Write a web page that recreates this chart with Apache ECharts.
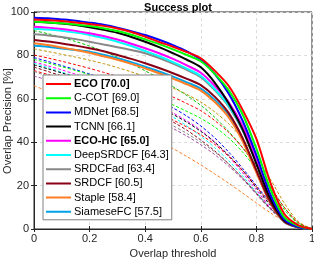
<!DOCTYPE html>
<html><head><meta charset="utf-8">
<script src="https://cdn.jsdelivr.net/npm/echarts@6/dist/echarts.min.js"></script>
<style>html,body{margin:0;padding:0;background:#fff}#c{width:314px;height:260px}</style>
</head><body><div id="c"></div>
<script>
// thresholds 0:0.05:1
const thresholds = [0,0.05,0.1,0.15,0.2,0.25,0.3,0.35,0.4,0.45,0.5,0.55,0.6,0.65,0.7,0.75,0.8,0.85,0.9,0.95,1];
const xTicks = [0,0.2,0.4,0.6,0.8,1];
const yTicks = [0,20,40,60,80,100];

// top-10 trackers (solid)
const trackerNames = ['ECO [70.0]','C-COT [69.0]','MDNet [68.5]','TCNN [66.1]','ECO-HC [65.0]','DeepSRDCF [64.3]','SRDCFad [63.4]','SRDCF [60.5]','Staple [58.4]','SiameseFC [57.5]'];
const ECO       = [96.6,96.3,95.8,95.2,94.5,93.6,92.4,90.8,88.6,86.2,84.0,81.5,78.7,73.0,66.0,55.0,41.5,21.5,7.0,1.8,0];
const CCOT      = [95.5,95.2,94.8,94.2,93.5,92.5,91.2,89.5,87.4,85.2,82.8,80.2,77.3,71.5,64.0,53.0,37.0,18.5,5.5,1.5,0];
const MDNet     = [97.4,97.1,96.6,96.0,95.1,94.1,92.8,91.2,89.4,87.2,84.7,81.8,78.0,71.5,62.5,50.0,34.0,16.0,4.5,1.0,0];
const TCNN      = [95.5,95.2,94.7,94.0,93.0,91.8,90.4,88.5,86.3,83.8,81.0,78.0,74.5,67.5,58.0,46.0,30.0,14.0,4.0,1.0,0];
const ECOHC     = [93.2,92.8,92.2,91.3,90.2,88.9,87.3,85.4,83.3,81.0,78.4,75.4,72.0,66.0,58.5,47.5,32.5,15.5,4.5,1.0,0];
const DeepSRDCF = [92.3,91.9,91.3,90.5,89.4,88.0,86.3,84.3,82.0,79.6,76.9,73.9,70.5,64.5,57.0,46.0,31.0,15.0,4.5,1.0,0];
const SRDCFad   = [89.7,89.2,88.5,87.5,86.3,85.0,83.8,82.5,81.0,78.8,76.2,73.3,70.0,64.0,56.5,45.5,30.5,14.5,4.2,1.0,0];
const SRDCF     = [87.1,86.4,85.5,84.5,83.3,81.9,80.2,78.4,76.4,74.2,71.8,69.2,66.3,61.0,53.5,42.0,27.0,12.5,3.5,0.8,0];
const Staple    = [85.6,84.8,83.6,82.5,81.2,79.6,78.0,76.1,74.0,71.8,69.3,66.7,63.8,58.5,51.5,40.5,26.0,12.0,3.3,0.8,0];
const SiameseFC = [84.5,84.0,83.2,82.5,81.7,80.3,78.7,76.9,74.8,72.6,70.2,67.6,64.7,59.5,52.5,41.5,26.5,12.0,3.2,0.7,0];
const solidValues = [ECO,CCOT,MDNet,TCNN,ECOHC,DeepSRDCF,SRDCFad,SRDCF,Staple,SiameseFC];
const solidColors = ['#ff0000','#00ff00','#0000ff','#000000','#ff00ff','#00ffff','#888888','#880015','#ff7f27','#00a2e8'];
const boldNames = ['ECO [70.0]','ECO-HC [65.0]'];

// remaining trackers (dashed)
const dGreen1  = [91.4,90.0,88.3,86.4,84.3,81.9,79.2,76.2,72.9,69.4,65.6,61.5,57.0,51.5,45.0,37.5,29.0,19.5,10.0,3.0,0];
const dOlive   = [83.0,81.8,80.5,79.2,77.8,76.2,74.4,72.4,70.2,67.8,65.0,62.0,58.5,54.0,48.5,41.5,33.0,23.0,12.0,3.5,0];
const dRed1    = [80.2,78.8,77.3,75.7,74.0,72.2,70.3,68.2,66.0,63.5,60.8,57.8,54.5,50.0,44.5,37.5,29.0,19.5,10.0,3.0,0];
const dBlue    = [79.0,77.2,75.3,73.4,71.4,69.2,67.0,64.6,62.0,59.0,55.8,52.0,47.5,42.0,35.5,28.0,20.0,12.0,5.0,1.2,0];
const dGreen2  = [78.2,76.5,74.8,73.0,71.1,69.2,67.2,65.0,62.6,60.0,57.2,54.2,51.0,47.0,42.0,35.5,27.5,18.5,9.0,2.5,0];
const dMagenta = [77.0,75.2,73.3,71.3,69.2,67.0,64.7,62.3,59.7,56.8,53.5,49.8,45.5,40.0,33.5,26.0,18.0,10.0,4.0,1.0,0];
const dCyan    = [76.4,74.4,72.3,70.2,68.0,65.7,63.3,60.7,58.0,55.0,51.6,47.5,42.8,37.5,31.5,24.5,17.0,9.5,3.8,1.0,0];
const dBlack   = [75.6,73.8,71.9,70.0,68.0,65.9,63.7,61.3,58.8,56.0,52.8,49.2,45.0,40.0,34.0,27.0,19.0,11.0,4.5,1.2,0];
const dDarkRed = [74.6,72.6,70.5,68.3,66.0,63.6,61.1,58.5,55.7,52.7,49.3,45.5,41.0,36.0,30.0,23.5,16.5,9.5,4.0,1.0,0];
const dRed2    = [73.0,71.2,69.3,67.3,65.2,63.0,60.7,58.3,55.8,53.1,50.2,47.0,43.4,39.0,33.5,27.0,19.5,12.0,5.5,1.5,0];
const dGray    = [72.5,70.5,68.4,66.2,63.9,61.5,59.0,56.4,53.7,50.8,47.6,44.0,40.0,35.5,30.0,23.5,16.5,9.5,4.0,1.0,0];
const dPurple  = [70.5,68.6,66.6,64.5,62.3,60.0,57.6,55.1,52.4,49.5,46.3,42.8,38.8,34.3,29.0,23.0,16.0,9.0,3.8,1.0,0];
const dOrange  = [66.0,63.5,61.0,58.4,55.7,52.9,50.0,47.0,43.9,40.6,37.1,33.4,29.5,25.4,21.1,16.6,12.0,7.5,3.6,1.0,0];
const dashedValues = [dGreen1,dOlive,dRed1,dBlue,dGreen2,dMagenta,dCyan,dBlack,dDarkRed,dRed2,dGray,dPurple,dOrange];
const dashedColors = ['#00c000','#bf9000','#ff0000','#0000ff','#00ff00','#ff00ff','#00ffff','#000000','#880015','#ff0000','#888888','#a349a4','#ff7f27'];

const axisColor = '#262626';
const font = 'Liberation Sans, Arial, sans-serif';
const lineIcon = 'path://M0,0L0.01,0L0,0.01Z M0,5L25,5L25,7L0,7Z M25,12L24.99,12L25,11.99Z';
const pairs = v => thresholds.map((t,i)=>[t,v[i]]);
const series = [];
dashedValues.forEach((v,i)=>{
  series.push({type:'line', name:'d'+i, data:pairs(v), showSymbol:false, symbol:'none', smooth:0.3, silent:true,
    lineStyle:{color:dashedColors[i], width:1, type:[3,2]}, z:2});
});
for (let i = solidValues.length-1; i>=0; i--) {
  series.push({type:'line', name:trackerNames[i], data:pairs(solidValues[i]), symbol:'none', showSymbol:false, smooth:0.3,
    color:solidColors[i], itemStyle:{color:solidColors[i]}, lineStyle:{color:solidColors[i], width:2}, z:3+(10-i)});
}

const chart = echarts.init(document.getElementById('c'), null, {renderer:'canvas'});
chart.setOption({
  animation:false,
  textStyle:{fontFamily:font},
  title:{text:'Success plot', left:173, top:-3, textAlign:'center',
    textStyle:{fontSize:11, fontWeight:'bold', color:'#000', fontFamily:font}},
  graphic:[{type:'text', x:8, y:121, rotation:Math.PI/2, z:50,
    style:{text:'Overlap Precision [%]', fill:axisColor, font:'11px "Liberation Sans", Arial, sans-serif',
      textAlign:'center', textVerticalAlign:'middle'}}],
  grid:{left:34, right:2, top:12, bottom:31, show:true, borderColor:axisColor, borderWidth:1, backgroundColor:'#fff',
    containLabel:false, outerBoundsMode:'none'},
  legend:{data:trackerNames.map(n=>({name:n, icon:lineIcon})), orient:'vertical', left:43, top:75, itemWidth:25, itemHeight:12, itemGap:2.2,
    padding:[3,3,2,3], backgroundColor:'#fff', borderColor:'#808080', borderWidth:1, borderRadius:0,
    selectedMode:false, z:20,
    formatter: n => boldNames.includes(n) ? '{b|'+n+'}' : n,
    textStyle:{fontSize:11, color:'#000', padding:[0,0,0,-2], fontFamily:font,
      rich:{b:{fontWeight:'bold', fontSize:11, color:'#000', fontFamily:font}}}},
  xAxis:[{type:'value', min:xTicks[0], max:xTicks[xTicks.length-1], interval:0.2,
    name:'Overlap threshold', nameLocation:'middle', nameGap:14,
    nameTextStyle:{fontSize:11, color:axisColor},
    axisLine:{show:true, lineStyle:{color:axisColor}},
    axisTick:{show:true, inside:true, length:3, lineStyle:{color:axisColor}},
    axisLabel:{fontSize:11, color:axisColor, margin:4, formatter:v=>String(v)},
    splitLine:{show:true, lineStyle:{color:'#dcdcdc', type:[3,3], width:1}}},
   {type:'value', position:'top', min:0, max:1, interval:0.2,
    axisLine:{show:true, lineStyle:{color:axisColor}},
    axisTick:{show:true, inside:true, length:3, lineStyle:{color:axisColor}},
    axisLabel:{show:false}, splitLine:{show:false}}],
  yAxis:[{type:'value', min:yTicks[0], max:yTicks[yTicks.length-1], interval:20,
    axisLine:{show:true, lineStyle:{color:axisColor}},
    axisTick:{show:true, inside:true, length:3, lineStyle:{color:axisColor}},
    axisLabel:{fontSize:11, color:axisColor, margin:5},
    splitLine:{show:true, lineStyle:{color:'#dcdcdc', type:[3,3], width:1}}},
   {type:'value', position:'right', min:0, max:100, interval:20,
    axisLine:{show:true, lineStyle:{color:axisColor}},
    axisTick:{show:true, inside:true, length:3, lineStyle:{color:axisColor}},
    axisLabel:{show:false}, splitLine:{show:false}}],
  series: series
});
</script></body></html>
